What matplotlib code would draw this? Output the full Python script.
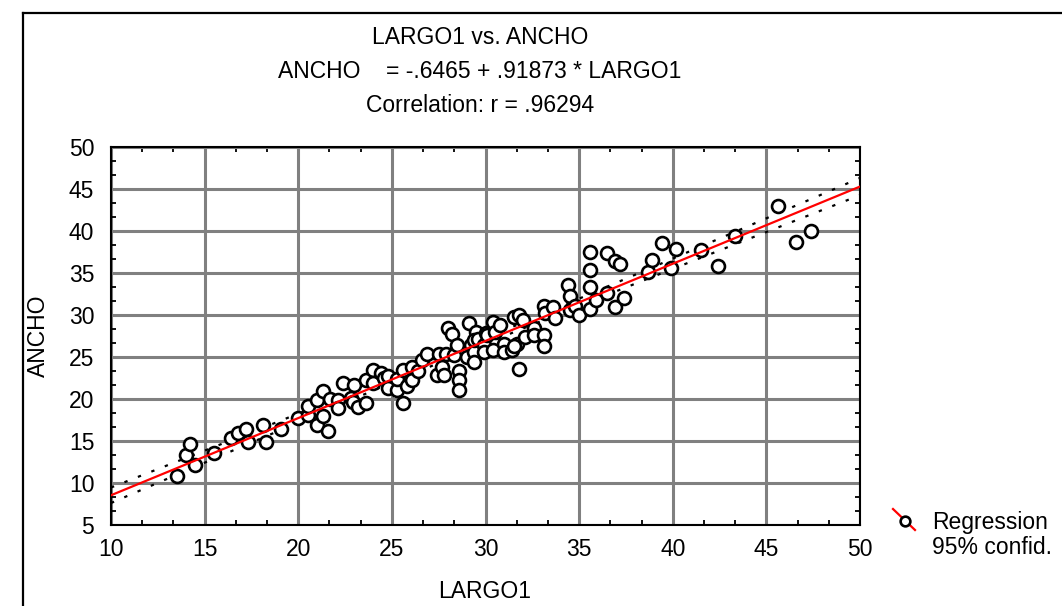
import numpy as np
import matplotlib
matplotlib.use("Agg")
import matplotlib.pyplot as plt
from matplotlib.lines import Line2D
from matplotlib.ticker import MultipleLocator

# data
largo1 = [13.5, 14.0, 14.2, 14.5, 15.5, 16.4, 16.8, 17.2, 17.3, 18.1, 18.3, 19.1, 20.0, 20.5,
          20.5, 21.0, 21.0, 21.3, 21.3, 21.6, 21.7, 22.1, 22.1, 22.4, 22.8, 22.9, 23.0, 23.2,
          23.6, 23.6, 24.0, 24.0, 24.4, 24.6, 24.8, 24.8, 25.3, 25.3, 25.6, 25.6, 25.8, 26.1,
          26.1, 26.4, 26.6, 26.9, 27.4, 27.5, 27.7, 27.8, 27.9, 28.0, 28.2, 28.3, 28.5, 28.6,
          28.6, 28.6, 29.0, 29.1, 29.2, 29.4, 29.4, 29.5, 29.4, 29.6, 29.9, 29.9, 30.0, 30.1,
          30.4, 30.5, 30.4, 30.8, 31.0, 31.0, 31.4, 31.5, 31.7, 31.8, 31.8, 32.0, 32.1, 31.5,
          32.6, 32.6, 33.1, 33.2, 33.1, 33.1, 33.6, 33.7, 34.4, 34.5, 34.5, 34.8, 35.0, 35.6,
          35.6, 35.6, 35.6, 35.9, 36.5, 36.5, 36.9, 36.9, 37.2, 37.4, 38.7, 38.9, 39.4, 39.9,
          40.2, 41.5, 42.4, 43.3, 45.6, 46.6, 47.4]
ancho = [10.8, 13.3, 14.6, 12.2, 13.6, 15.3, 15.9, 16.4, 14.9, 16.9, 14.9, 16.4, 17.7, 18.1,
         19.2, 19.9, 16.9, 20.9, 18.0, 16.2, 20.0, 19.9, 18.9, 21.9, 20.1, 19.7, 21.7, 19.0,
         19.5, 22.3, 23.5, 21.9, 23.1, 22.5, 22.7, 21.3, 21.1, 22.4, 23.5, 19.5, 21.5, 22.3,
         23.8, 23.3, 24.6, 25.3, 22.9, 25.3, 23.8, 22.9, 25.4, 28.4, 27.7, 25.2, 26.4, 23.3,
         22.3, 21.1, 25.0, 29.1, 26.4, 25.6, 24.4, 28.0, 27.0, 27.2, 26.4, 25.6, 27.8, 27.6,
         29.2, 28.0, 25.8, 28.8, 26.6, 25.6, 25.8, 29.8, 26.6, 23.6, 30.0, 29.4, 27.4, 26.3,
         28.4, 27.6, 31.1, 30.2, 27.6, 26.3, 31.0, 29.7, 33.6, 32.3, 30.6, 31.1, 30.0, 37.5,
         35.4, 33.3, 30.7, 31.8, 32.6, 37.4, 31.0, 36.4, 36.1, 32.0, 35.1, 36.6, 38.6, 35.6,
         37.9, 37.7, 35.8, 39.4, 43.0, 38.7, 40.0]

intercept = -0.6465
slope = 0.91873
x_range = [10, 50]
y_range = [5, 50]

plt.rcParams['font.family'] = ['Liberation Sans', 'DejaVu Sans']
FS = 16.5

fig = plt.figure(figsize=(10.62, 6.06), dpi=100)
ax = fig.add_axes([111/1062, 81/606, 749/1062, 378/606])

x = np.array(largo1)
y = np.array(ancho)

# regression line and 95% confidence band
xs = np.linspace(x_range[0], x_range[1], 200)
fit = intercept + slope * xs
n = len(x)
resid = y - (intercept + slope * x)
s = np.sqrt(np.sum(resid**2) / (n - 2))
sxx = np.sum((x - x.mean())**2)
half = 1.98 * s * np.sqrt(1.0/n + (xs - x.mean())**2 / sxx)

ax.plot(xs, fit + half, color='black', lw=1.6, ls=(0, (1.5, 5)), zorder=3)
ax.plot(xs, fit - half, color='black', lw=1.6, ls=(0, (1.5, 5)), zorder=3)
ax.plot(x, y, 'o', ms=9.3, mfc='white', mec='black', mew=1.9, zorder=4)
ax.plot(xs, fit, color='red', lw=1.6, zorder=5)

ax.set_xlim(x_range)
ax.set_ylim(y_range)
ax.xaxis.set_major_locator(MultipleLocator(5))
ax.yaxis.set_major_locator(MultipleLocator(5))
ax.xaxis.set_minor_locator(MultipleLocator(5/3))
ax.yaxis.set_minor_locator(MultipleLocator(5/3))
ax.grid(True, which='major', color='#808080', lw=2.2)
ax.set_axisbelow(True)
ax.tick_params(which='both', direction='in', top=True, right=True, width=1.3, color='black')
ax.tick_params(which='major', length=0, labelsize=FS)
ax.tick_params(axis='x', which='major', pad=9)
ax.tick_params(axis='y', which='major', pad=12)
ax.tick_params(which='minor', length=3.5)
for sp in ax.spines.values():
    sp.set_linewidth(1.5)

# axis titles
fig.text(485/1062, 1 - 591/606, "LARGO1", ha='center', va='center', fontsize=FS)
fig.text(38/1062, 1 - 336/606, "ANCHO", ha='center', va='center', rotation=90, fontsize=FS)

fig.text(0.452, 1 - 38/606, "LARGO1 vs. ANCHO", ha='center', va='center', fontsize=FS)
fig.text(0.452, 1 - 72/606, "ANCHO    = -.6465 + .91873 * LARGO1", ha='center', va='center', fontsize=FS)
fig.text(0.452, 1 - 106/606, "Correlation: r = .96294", ha='center', va='center', fontsize=FS)

# legend
fig.add_artist(Line2D([893/1062, 915/1062], [1 - 509/606, 1 - 530/606], color='red', lw=1.6))
fig.add_artist(Line2D([905/1062], [1 - 521/606], marker='o', ms=7, mfc='white', mec='black', mew=1.9))
fig.text(932/1062, 1 - 522/606, "Regression", ha='left', va='center', fontsize=FS)
fig.text(932/1062, 1 - 548/606, "95% confid.", ha='left', va='center', fontsize=FS)

# outer frame
fig.add_artist(Line2D([23/1062, 23/1062], [0, 1 - 13/606], color='black', lw=1.6))
fig.add_artist(Line2D([23/1062, 1], [1 - 13/606, 1 - 13/606], color='black', lw=1.6))

fig.savefig("out.png", dpi=100)
